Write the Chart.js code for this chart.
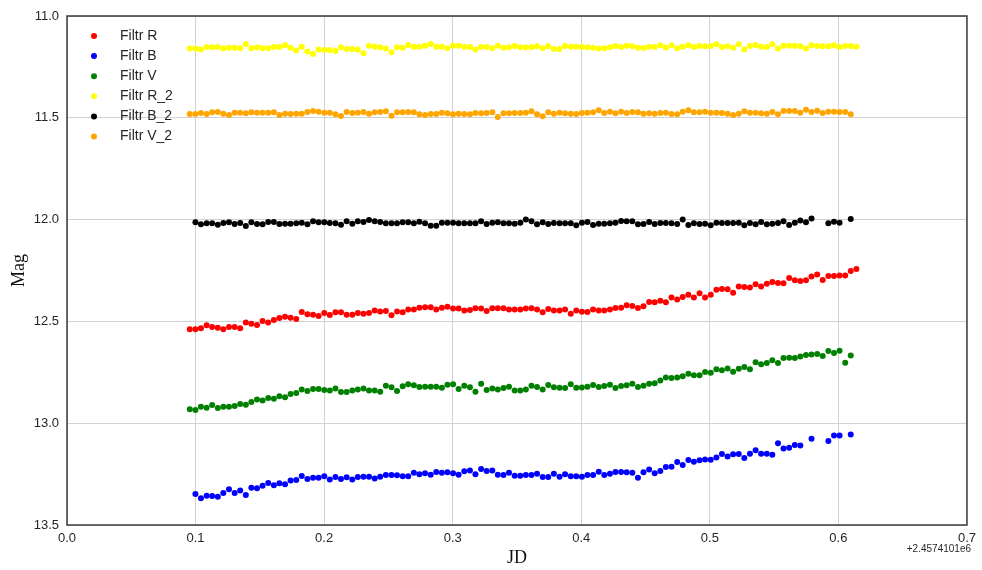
<!DOCTYPE html>
<html>
<head>
<meta charset="utf-8">
<script src="https://cdn.jsdelivr.net/npm/chart.js@4/dist/chart.umd.min.js"></script>
<style>
  html, body { margin: 0; padding: 0; background: #fff; }
  canvas { display: block; }
</style>
</head>
<body>
<canvas id="lightCurve" width="982" height="570"></canvas>
<script>
// JD - 2457410.1 for each exposure
const jd = [
  0.0955, 0.0999, 0.1042, 0.1086, 0.1129, 0.1173, 0.1216, 0.1260, 0.1304, 0.1347,
  0.1391, 0.1434, 0.1478, 0.1521, 0.1565, 0.1609, 0.1652, 0.1696, 0.1739, 0.1783,
  0.1826, 0.1870, 0.1914, 0.1957, 0.2001, 0.2044, 0.2088, 0.2131, 0.2175, 0.2219,
  0.2262, 0.2306, 0.2349, 0.2393, 0.2436, 0.2480, 0.2524, 0.2567, 0.2611, 0.2654,
  0.2698, 0.2741, 0.2785, 0.2829, 0.2872, 0.2916, 0.2959, 0.3003, 0.3046, 0.3090,
  0.3134, 0.3177, 0.3221, 0.3264, 0.3308, 0.3351, 0.3395, 0.3438, 0.3482, 0.3526,
  0.3569, 0.3613, 0.3656, 0.3700, 0.3743, 0.3787, 0.3831, 0.3874, 0.3918, 0.3961,
  0.4005, 0.4048, 0.4092, 0.4136, 0.4179, 0.4223, 0.4266, 0.4310, 0.4353, 0.4397,
  0.4441, 0.4484, 0.4528, 0.4571, 0.4615, 0.4658, 0.4702, 0.4746, 0.4789, 0.4833,
  0.4876, 0.4920, 0.4963, 0.5007, 0.5051, 0.5094, 0.5138, 0.5181, 0.5225, 0.5268,
  0.5312, 0.5356, 0.5399, 0.5443, 0.5486, 0.5530, 0.5573, 0.5617, 0.5661, 0.5704,
  0.5748, 0.5791, 0.5835, 0.5878, 0.5922, 0.5966, 0.6009, 0.6053, 0.6096, 0.6140
];

const magR = [
  12.539, 12.539, 12.534, 12.519, 12.527, 12.531, 12.539, 12.527, 12.527, 12.534,
  12.506, 12.511, 12.518, 12.498, 12.505, 12.493, 12.483, 12.477, 12.482, 12.488,
  12.454, 12.465, 12.467, 12.473, 12.459, 12.469, 12.455, 12.455, 12.467, 12.467,
  12.459, 12.462, 12.459, 12.447, 12.451, 12.449, 12.470, 12.451, 12.455, 12.441,
  12.441, 12.433, 12.431, 12.431, 12.441, 12.433, 12.428, 12.437, 12.437, 12.446,
  12.444, 12.436, 12.437, 12.449, 12.436, 12.436, 12.436, 12.441, 12.441, 12.441,
  12.437, 12.436, 12.442, 12.455, 12.439, 12.446, 12.446, 12.441, 12.462, 12.446,
  12.452, 12.454, 12.442, 12.446, 12.446, 12.441, 12.434, 12.433, 12.421, 12.424,
  12.434, 12.426, 12.405, 12.406, 12.398, 12.406, 12.383, 12.392, 12.380, 12.369,
  12.382, 12.362, 12.383, 12.369, 12.344, 12.341, 12.342, 12.359, 12.328, 12.331,
  12.334, 12.318, 12.329, 12.315, 12.306, 12.311, 12.313, 12.287, 12.298, 12.302,
  12.298, 12.279, 12.270, 12.297, 12.277, 12.277, 12.275, 12.275, 12.252, 12.243
];

const magB = [
  null,
  13.348, 13.369, 13.356, 13.358, 13.361, 13.343, 13.325, 13.343, 13.331, 13.353,
  13.317, 13.320, 13.307, 13.294, 13.305, 13.295, 13.300, 13.282, 13.279, 13.259,
  13.274, 13.268, 13.268, 13.261, 13.277, 13.264, 13.274, 13.266, 13.277, 13.264,
  13.263, 13.263, 13.272, 13.263, 13.254, 13.254, 13.256, 13.261, 13.261, 13.243,
  13.251, 13.246, 13.253, 13.240, 13.243, 13.241, 13.246, 13.253, 13.236, 13.232,
  13.251, 13.225, 13.235, 13.232, 13.253, 13.254, 13.243, 13.258, 13.258, 13.254,
  13.254, 13.248, 13.264, 13.264, 13.248, 13.263, 13.251, 13.261, 13.261,
  13.263, 13.254, 13.254, 13.238, 13.254, 13.248, 13.240, 13.240, 13.241, 13.243,
  13.268, 13.241, 13.228, 13.246, 13.235, 13.215, 13.214, 13.191, 13.205, 13.181,
  13.189, 13.182, 13.178, 13.179, 13.168, 13.151, 13.163, 13.153, 13.151, 13.171,
  13.150, 13.133, 13.150, 13.150, 13.155, 13.099, 13.124, 13.120, 13.107, 13.110,
  null, 13.076, null, null, 13.087, 13.060, 13.060, null, 13.055,
  null
];

const magV = [
  12.932, 12.935, 12.919, 12.924, 12.911, 12.925, 12.919, 12.919, 12.916, 12.906,
  12.909, 12.896, 12.883, 12.888, 12.876, 12.880, 12.868, 12.873, 12.857, 12.852,
  12.834, 12.842, 12.832, 12.832, 12.837, 12.840, 12.829, 12.847, 12.847, 12.840,
  12.834, 12.830, 12.839, 12.839, 12.845, 12.816, 12.824, 12.842, 12.819, 12.809,
  12.814, 12.822, 12.821, 12.821, 12.821, 12.826, 12.811, 12.809, 12.832, 12.816,
  12.824, 12.845, 12.806, 12.837, 12.830, 12.834, 12.827, 12.821, 12.840, 12.839,
  12.835, 12.816, 12.822, 12.835, 12.812, 12.824, 12.826, 12.827, 12.809, 12.826,
  12.825, 12.821, 12.812, 12.822, 12.817, 12.811, 12.827, 12.817, 12.814, 12.806,
  12.822, 12.816, 12.806, 12.804, 12.790, 12.775, 12.778, 12.776, 12.770, 12.757,
  12.765, 12.765, 12.749, 12.752, 12.735, 12.740, 12.731, 12.747, 12.732, 12.724,
  12.735, 12.701, 12.711, 12.704, 12.691, 12.704, 12.680, 12.678, 12.680, 12.673,
  12.665, 12.662, 12.660, 12.670, 12.645, 12.655, 12.644, 12.703, 12.667, null
];

const magR2 = [
  11.160, 11.160, 11.165, 11.152, 11.154, 11.152, 11.160, 11.156, 11.156, 11.159,
  11.138, 11.159, 11.154, 11.159, 11.159, 11.152, 11.152, 11.144, 11.156, 11.169,
  11.151, 11.174, 11.187, 11.165, 11.167, 11.167, 11.172, 11.154, 11.162, 11.162,
  11.164, 11.183, 11.146, 11.151, 11.154, 11.160, 11.178, 11.154, 11.156, 11.142,
  11.151, 11.151, 11.146, 11.138, 11.151, 11.151, 11.159, 11.146, 11.146, 11.151,
  11.152, 11.164, 11.152, 11.152, 11.159, 11.146, 11.156, 11.154, 11.147, 11.154,
  11.154, 11.154, 11.149, 11.159, 11.149, 11.162, 11.162, 11.147, 11.151, 11.151,
  11.152, 11.154, 11.156, 11.160, 11.159, 11.154, 11.147, 11.152, 11.146, 11.149,
  11.156, 11.157, 11.151, 11.152, 11.144, 11.156, 11.144, 11.159, 11.151, 11.144,
  11.152, 11.147, 11.149, 11.147, 11.139, 11.152, 11.149, 11.156, 11.139, 11.165,
  11.147, 11.142, 11.151, 11.152, 11.139, 11.160, 11.146, 11.146, 11.146, 11.149,
  11.160, 11.144, 11.147, 11.149, 11.149, 11.144, 11.152, 11.147, 11.147, 11.151
];

const magB2 = [
  null,
  12.013, 12.023, 12.018, 12.018, 12.025, 12.017, 12.013, 12.022, 12.017, 12.031,
  12.013, 12.022, 12.023, 12.012, 12.012, 12.022, 12.020, 12.020, 12.018, 12.015,
  12.023, 12.008, 12.013, 12.013, 12.017, 12.018, 12.025, 12.008, 12.020, 12.008,
  12.012, 12.002, 12.008, 12.012, 12.018, 12.018, 12.018, 12.013, 12.013, 12.018,
  12.010, 12.018, 12.030, 12.030, 12.015, 12.015, 12.015, 12.018, 12.018, 12.018,
  12.018, 12.008, 12.022, 12.015, 12.013, 12.018, 12.018, 12.020, 12.015, 12.000,
  12.008, 12.023, 12.013, 12.022, 12.017, 12.018, 12.018, 12.018, 12.028,
  12.015, 12.012, 12.027, 12.020, 12.020, 12.018, 12.015, 12.007, 12.008, 12.008,
  12.023, 12.022, 12.012, 12.022, 12.017, 12.017, 12.018, 12.022, 12.000, 12.027,
  12.018, 12.022, 12.020, 12.028, 12.015, 12.017, 12.017, 12.017, 12.015, 12.028,
  12.017, 12.023, 12.012, 12.023, 12.020, 12.017, 12.008, 12.027, 12.015, 12.005,
  12.013, 11.994, null, null, 12.018, 12.010, 12.015, null, 11.997,
  null
];

const magV2 = [
  11.481, 11.481, 11.476, 11.481, 11.473, 11.472, 11.480, 11.486, 11.475, 11.475,
  11.478, 11.473, 11.475, 11.475, 11.475, 11.473, 11.486, 11.480, 11.481, 11.480,
  11.480, 11.472, 11.467, 11.470, 11.475, 11.475, 11.483, 11.491, 11.472, 11.476,
  11.475, 11.472, 11.480, 11.473, 11.472, 11.468, 11.490, 11.473, 11.473, 11.472,
  11.473, 11.483, 11.486, 11.481, 11.481, 11.475, 11.478, 11.483, 11.480, 11.481,
  11.483, 11.476, 11.478, 11.476, 11.473, 11.496, 11.478, 11.478, 11.476, 11.476,
  11.475, 11.468, 11.483, 11.493, 11.473, 11.480, 11.475, 11.478, 11.480, 11.481,
  11.476, 11.475, 11.473, 11.463, 11.476, 11.470, 11.478, 11.470, 11.476, 11.472,
  11.473, 11.480, 11.478, 11.480, 11.476, 11.475, 11.481, 11.483, 11.470, 11.463,
  11.473, 11.473, 11.470, 11.475, 11.475, 11.476, 11.480, 11.486, 11.480, 11.468,
  11.475, 11.475, 11.478, 11.480, 11.472, 11.483, 11.467, 11.467, 11.467, 11.475,
  11.460, 11.472, 11.465, 11.476, 11.470, 11.470, 11.472, 11.472, 11.483, null
];

const seriesNames = ['Filtr R', 'Filtr B', 'Filtr V', 'Filtr R_2', 'Filtr B_2', 'Filtr V_2'];
const seriesColors = ['#ff0000', '#0000ff', '#008000', '#ffff00', '#000000', '#ffa500'];
const seriesMags = [magR, magB, magV, magR2, magB2, magV2];

const xTicks = [0.0, 0.1, 0.2, 0.3, 0.4, 0.5, 0.6, 0.7];
const yTicks = [11.0, 11.5, 12.0, 12.5, 13.0, 13.5];
const jdOffsetLabel = '+2.4574101e6';

function toPoints(mags) {
  const pts = [];
  mags.forEach((m, i) => {
    if (m !== null) pts.push({ x: jd[i], y: m });
  });
  return pts;
}

const datasets = seriesNames.map((name, k) => ({
  label: name,
  data: toPoints(seriesMags[k]),
  backgroundColor: seriesColors[k],
  borderColor: seriesColors[k],
  pointRadius: 3,
  pointBorderWidth: 0,
  pointHoverRadius: 3,
  showLine: false
}));

const sansFont = "'Liberation Sans', Arial, sans-serif";
const serifFont = "'Liberation Serif', 'Times New Roman', serif";

// legend in the upper-left corner of the plot, no frame
const cornerLegend = {
  id: 'cornerLegend',
  afterDatasetsDraw(chart) {
    const ctx = chart.ctx;
    ctx.save();
    ctx.font = '14px ' + sansFont;
    ctx.textBaseline = 'middle';
    ctx.textAlign = 'left';
    chart.data.datasets.forEach((ds, i) => {
      const y = 36 + i * 20.1;
      ctx.fillStyle = ds.backgroundColor;
      ctx.beginPath();
      ctx.arc(94, y, 3, 0, Math.PI * 2);
      ctx.fill();
      ctx.fillStyle = '#262626';
      ctx.fillText(ds.label, 120, y);
    });
    ctx.restore();
  }
};

// box around the plot and the JD offset under the x axis
const frameAndOffset = {
  id: 'frameAndOffset',
  afterDraw(chart) {
    const { ctx, chartArea: a } = chart;
    ctx.save();
    ctx.strokeStyle = '#3a3a3a';
    ctx.lineWidth = 1.5;
    ctx.strokeRect(a.left, a.top, a.right - a.left, a.bottom - a.top);
    ctx.font = '10px ' + sansFont;
    ctx.fillStyle = '#262626';
    ctx.textAlign = 'right';
    ctx.textBaseline = 'middle';
    ctx.fillText(jdOffsetLabel, 971, 549);
    ctx.restore();
  }
};

new Chart(document.getElementById('lightCurve'), {
  type: 'scatter',
  data: { datasets: datasets },
  options: {
    responsive: false,
    animation: false,
    layout: { padding: { top: 16, right: 14, bottom: 0, left: 0 } },
    plugins: {
      legend: { display: false },
      tooltip: { enabled: false }
    },
    scales: {
      x: {
        type: 'linear',
        min: xTicks[0],
        max: xTicks[xTicks.length - 1],
        afterFit(scale) { scale.height = 45; },
        afterBuildTicks(scale) { scale.ticks = xTicks.map(v => ({ value: v })); },
        border: { display: false },
        grid: { color: '#d2d2d2', lineWidth: 1, drawTicks: false },
        ticks: {
          color: '#262626',
          padding: 6,
          font: { family: sansFont, size: 13 },
          callback: v => Number(v).toFixed(1)
        },
        title: {
          display: true,
          text: 'JD',
          color: '#111',
          font: { family: serifFont, size: 18 },
          padding: { top: 0, bottom: 1 }
        }
      },
      y: {
        type: 'linear',
        reverse: true,
        min: yTicks[0],
        max: yTicks[yTicks.length - 1],
        afterFit(scale) { scale.width = 67; },
        afterBuildTicks(scale) { scale.ticks = yTicks.map(v => ({ value: v })); },
        border: { display: false },
        grid: { color: '#d2d2d2', lineWidth: 1, drawTicks: false },
        ticks: {
          color: '#262626',
          padding: 8,
          font: { family: sansFont, size: 13 },
          callback: v => Number(v).toFixed(1)
        },
        title: {
          display: true,
          text: 'Mag',
          color: '#111',
          font: { family: serifFont, size: 18 },
          padding: { top: 8, bottom: 0 }
        }
      }
    }
  },
  plugins: [cornerLegend, frameAndOffset]
});
</script>
</body>
</html>
